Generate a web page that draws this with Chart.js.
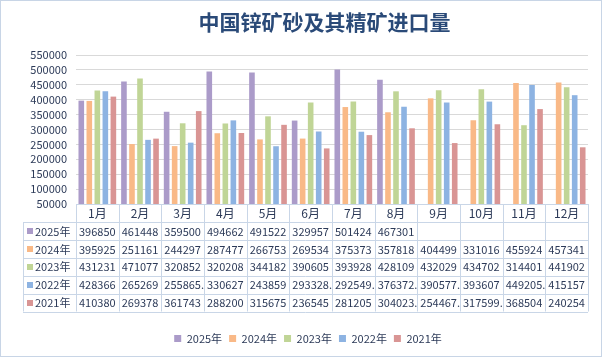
<!DOCTYPE html>
<html><head><meta charset="utf-8">
<script src="https://cdn.jsdelivr.net/npm/chart.js@4/dist/chart.umd.min.js"></script>
<style>html,body{margin:0;padding:0;background:#fff}#c{display:block}</style>
</head><body>
<canvas id="c" width="603" height="358"></canvas>
<script>
const titleText = '中国锌矿砂及其精矿进口量';
const categories = ['1月','2月','3月','4月','5月','6月','7月','8月','9月','10月','11月','12月'];
const seriesNames = ['2025年','2024年','2023年','2022年','2021年'];
const v2025 = [396850,461448,359500,494662,491522,329957,501424,467301,null,null,null,null];
const v2024 = [395925,251161,244297,287477,266753,269534,375373,357818,404499,331016,455924,457341];
const v2023 = [431231,471077,320852,320208,344182,390605,393928,428109,432029,434702,314401,441902];
const v2022 = [428366,265269,255865.5,330627,243859,293328.5,292549.5,376372.5,390577.5,393607,449205.5,415157];
const v2021 = [410380,269378,361743,288200,315675,236545,281205,304023.5,254467.5,317599.5,368504,240254];
const yTicks = [50000,100000,150000,200000,250000,300000,350000,400000,450000,500000,550000];
const colors = ['#AB9BC9','#F9B987','#C0D596','#8DB3E2','#D99594'];
const seriesValues = [v2025,v2024,v2023,v2022,v2021];
const textColor = '#2c3a58';
const tableLine = '#c9d6e7';
const FONT = '"Noto Sans CJK SC", "Noto Sans", sans-serif';

function fmt(v){
  if (v === null || v === undefined) return '';
  return Number.isInteger(v) ? String(v) : Math.floor(v) + '.';
}

const tablePlugin = {
  id: 'tablePlugin',
  beforeDraw(chart){
    const ctx = chart.ctx;
    ctx.save();
    ctx.fillStyle = '#fff';
    ctx.fillRect(0,0,chart.width,chart.height);
    ctx.strokeStyle = '#c8d5e6';
    ctx.lineWidth = 1;
    ctx.strokeRect(0.5,0.5,chart.width-2,chart.height-2);
    ctx.restore();
  },
  afterDraw(chart){
    const ctx = chart.ctx;
    const xs = chart.scales.x;
    const left = xs.left, right = xs.right;
    const n = categories.length;
    const cw = (right-left)/n;
    const top = xs.top;
    const headH = 18;
    const rowH = 17.9;
    const bottom = top + headH + rowH*seriesNames.length;
    const labelLeft = 23;
    ctx.save();
    ctx.strokeStyle = tableLine;
    ctx.lineWidth = 1;
    ctx.beginPath();
    for (let r=0;r<=seriesNames.length;r++){
      const y = Math.round(top+headH+r*rowH)+0.5;
      ctx.moveTo(labelLeft, y); ctx.lineTo(right, y);
    }
    ctx.moveTo(labelLeft+0.5, top+headH); ctx.lineTo(labelLeft+0.5, bottom);
    for (let i=0;i<=n;i++){
      const x = Math.round(left+i*cw)+0.5;
      ctx.moveTo(x, top); ctx.lineTo(x, bottom);
    }
    ctx.stroke();
    ctx.font = '11px ' + FONT;
    ctx.textBaseline = 'middle';
    ctx.textAlign = 'left';
    for (let r=0;r<seriesNames.length;r++){
      const cy = top+headH+r*rowH+rowH/2;
      ctx.fillStyle = colors[r];
      ctx.fillRect(27, Math.round(cy-3), 6, 6);
      ctx.fillStyle = textColor;
      ctx.fillText(seriesNames[r], 35, cy+0.5);
      const vals = seriesValues[r];
      for (let i=0;i<n;i++){
        const t = fmt(vals[i]);
        if (!t) continue;
        const cl = left+i*cw;
        ctx.save();
        ctx.beginPath();
        ctx.rect(cl+1, cy-rowH/2, cw-1, rowH);
        ctx.clip();
        ctx.fillText(t, cl+3, cy+0.5);
        ctx.restore();
      }
    }
    // title
    ctx.font = 'bold 21px ' + FONT;
    ctx.fillStyle = '#2a4a78';
    ctx.textAlign = 'center';
    ctx.fillText(titleText, 324.5, 22);
    ctx.restore();
  }
};

new Chart(document.getElementById('c'), {
  type: 'bar',
  data: {
    labels: categories,
    datasets: seriesNames.map((name,i)=>({
      label: name,
      data: seriesValues[i],
      backgroundColor: colors[i],
      borderWidth: 0,
      categoryPercentage: 0.94,
      barPercentage: 0.7
    }))
  },
  options: {
    responsive: false,
    animation: false,
    devicePixelRatio: 1,
    layout: { padding: { left: 28, right: 15, top: 55, bottom: 4 } },
    plugins: {
      title: { display: false },
      tooltip: { enabled: false },
      legend: {
        position: 'bottom',
        labels: {
          boxWidth: 7, boxHeight: 7, padding: 7,
          color: textColor,
          font: { family: FONT, size: 11 }
        }
      }
    },
    scales: {
      x: {
        grid: { display: false, drawTicks: false },
        border: { display: true, color: tableLine },
        ticks: { color: textColor, font: { family: FONT, size: 12 }, padding: 2, maxRotation: 0, autoSkip: false },
        afterFit(s){ s.height = 122; }
      },
      y: {
        min: 50000, max: 550000,
        afterBuildTicks(s){ s.ticks = yTicks.map(v=>({value:v})); },
        grid: { color: '#d9d9d9', drawTicks: false },
        border: { display: false },
        ticks: { color: textColor, font: { family: FONT, size: 11 }, padding: 9, autoSkip: false, callback: v => String(v) },
        afterFit(s){ s.width = 48; }
      }
    }
  },
  plugins: [tablePlugin]
});
</script>
</body></html>
